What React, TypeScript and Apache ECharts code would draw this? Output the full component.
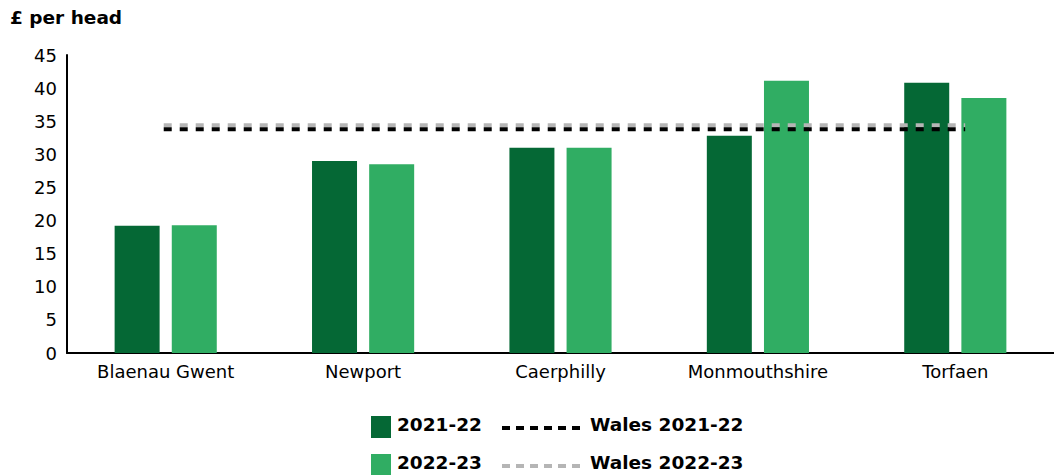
import React, { useEffect, useRef } from "react";
import * as echarts from "echarts";

const categories = ["Blaenau Gwent", "Newport", "Caerphilly", "Monmouthshire", "Torfaen"];
const values2122 = [19.2, 29.0, 31.0, 32.8, 40.8];
const values2223 = [19.3, 28.5, 31.0, 41.1, 38.5];
const wales2122 = 33.8;
const wales2223 = 34.4;
// Wales average reference lines run from the first to slightly past the last category centre
const walesSpan = [-0.01, 4.05];
const yTicks = [0, 5, 10, 15, 20, 25, 30, 35, 40, 45];

const DARK = "#056835";
const LIGHT = "#30ad63";
const GREY = "#b5b5b5";
const FONT = "'DejaVu Sans', sans-serif";

export default function App() {
  const ref = useRef<HTMLDivElement>(null);
  useEffect(() => {
    document.body.style.margin = "0";
    const chart = echarts.init(ref.current!, null, { renderer: "svg" });
    const legendText = (x: number, y: number, t: string) => ({
      type: "text",
      left: x,
      top: y,
      style: { text: t, fill: "#000", font: `bold 18.5px ${FONT}` },
    });
    chart.setOption({
      animation: false,
      textStyle: { fontFamily: FONT },
      grid: { left: 67, top: 55, width: 990, height: 298, containLabel: false },
      xAxis: [
        {
          type: "category",
          data: categories,
          axisLine: { onZero: false, lineStyle: { color: "#000", width: 2 } },
          axisTick: { show: false },
          axisLabel: { color: "#000", fontSize: 18, margin: 9, fontFamily: FONT },
        },
        {
          type: "value",
          min: -0.5,
          max: categories.length - 0.5,
          show: false,
        },
      ],
      yAxis: {
        type: "value",
        min: yTicks[0],
        max: yTicks[yTicks.length - 1],
        interval: 5,
        axisLine: { show: true, onZero: false, lineStyle: { color: "#000", width: 2 } },
        axisTick: { show: false },
        splitLine: { show: false },
        axisLabel: { color: "#000", fontSize: 18, margin: 10, fontFamily: FONT },
      },
      series: [
        {
          name: "2021-22",
          type: "bar",
          data: values2122,
          barWidth: 45,
          barGap: "27%",
          itemStyle: { color: DARK },
        },
        {
          name: "2022-23",
          type: "bar",
          data: values2223,
          barWidth: 45,
          itemStyle: { color: LIGHT },
        },
        {
          name: "Wales 2022-23",
          type: "line",
          xAxisIndex: 1,
          data: walesSpan.map((x) => [x, wales2223]),
          symbol: "none",
          lineStyle: { color: GREY, width: 4, type: [8, 8] },
          z: 5,
        },
        {
          name: "Wales 2021-22",
          type: "line",
          xAxisIndex: 1,
          data: walesSpan.map((x) => [x, wales2122]),
          symbol: "none",
          lineStyle: { color: "#000", width: 4, type: [8, 8] },
          z: 6,
        },
      ],
      graphic: [
        {
          type: "text",
          left: 10,
          top: 8,
          style: { text: "£ per head", fill: "#000", font: `bold 18.5px ${FONT}` },
        },
        { type: "rect", shape: { x: 371, y: 416, width: 20, height: 22 }, style: { fill: DARK } },
        legendText(397, 415, "2021-22"),
        {
          type: "line",
          shape: { x1: 502, y1: 428, x2: 580, y2: 428 },
          style: { stroke: "#000", lineWidth: 4, lineDash: [8, 6] },
        },
        legendText(590, 415, "Wales 2021-22"),
        { type: "rect", shape: { x: 371, y: 454, width: 20, height: 21 }, style: { fill: LIGHT } },
        legendText(397, 453, "2022-23"),
        {
          type: "line",
          shape: { x1: 502, y1: 466, x2: 580, y2: 466 },
          style: { stroke: GREY, lineWidth: 4, lineDash: [8, 6] },
        },
        legendText(590, 453, "Wales 2022-23"),
      ],
    });
    return () => chart.dispose();
  }, []);
  return <div ref={ref} style={{ width: 1054, height: 475 }} />;
}
